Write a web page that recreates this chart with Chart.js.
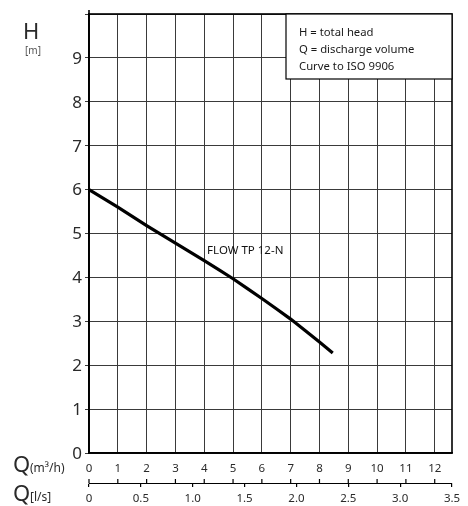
<!DOCTYPE html>
<html><head><meta charset="utf-8">
<script src="https://cdn.jsdelivr.net/npm/chart.js@4.4.0/dist/chart.umd.min.js"></script>
<style>html,body{margin:0;padding:0;background:#fff}canvas{display:block}</style>
</head><body>
<canvas id="c" width="468" height="506" style="width:468px;height:506px"></canvas>
<script>
const flowM3h = [0, 1, 2, 3, 4, 5, 6, 7, 8, 8.46];
const headM = [6.0, 5.6, 5.18, 4.78, 4.38, 3.97, 3.52, 3.05, 2.53, 2.28];
const xTicksM3h = [0,1,2,3,4,5,6,7,8,9,10,11,12];
const xTicksLs = [0,0.5,1.0,1.5,2.0,2.5,3.0,3.5];
const xTickLabelsLs = ['0','0.5','1.0','1.5','2.0','2.5','3.0','3.5'];
const yTicks = [0,1,2,3,4,5,6,7,8,9,10];
const legendLines = ['H = total head','Q = discharge volume','Curve to ISO 9906'];
const seriesName = 'FLOW TP 12-N';
const seriesLabelAt = {x: 4.1, y: 4.6};

const FONT = "'Noto Sans', 'Open Sans', sans-serif";
const TXT = '#2a2a2a';

const extras = {
  id: 'extras',
  afterDraw(chart) {
    const ctx = chart.ctx, a = chart.chartArea;
    const xs = chart.scales.x, x2 = chart.scales.x2;
    ctx.save();
    // frame
    ctx.strokeStyle = '#000'; ctx.lineWidth = 1.6;
    ctx.strokeRect(a.left, a.top, a.right - a.left, a.bottom - a.top);
    ctx.beginPath(); ctx.moveTo(a.left, a.top); ctx.lineTo(a.left, a.top - 4); ctx.stroke();
    // upward ticks of m3/h on the l/s line
    ctx.lineWidth = 1.2;
    ctx.beginPath();
    xTicksM3h.forEach(v => {
      const px = xs.getPixelForValue(v);
      ctx.moveTo(px, x2.top + 0.5); ctx.lineTo(px, x2.top - 4);
    });
    ctx.stroke();
    // legend box
    const bw = 166, bh = 65;
    const bx = a.right - bw, by = a.top;
    ctx.fillStyle = '#fff';
    ctx.fillRect(bx, by, bw, bh);
    ctx.strokeStyle = '#000'; ctx.lineWidth = 1.2;
    ctx.strokeRect(bx, by, bw, bh);
    ctx.fillStyle = '#1a1a1a';
    ctx.font = '11.3px ' + FONT;
    ctx.textBaseline = 'middle'; ctx.textAlign = 'left';
    legendLines.forEach((t, i) => ctx.fillText(t, bx + 13, by + 19 + i * 17));
    // series label
    ctx.font = '11.5px ' + FONT;
    ctx.fillStyle = '#111';
    ctx.fillText(seriesName, xs.getPixelForValue(seriesLabelAt.x), chart.scales.y.getPixelForValue(seriesLabelAt.y));
    // axis titles
    ctx.fillStyle = TXT;
    ctx.font = '22px ' + FONT;
    ctx.fillText('H', 23, 33);
    ctx.font = '10px ' + FONT;
    ctx.fillStyle = '#555';
    ctx.fillText('[m]', 25, 51);
    ctx.fillStyle = TXT;
    ctx.font = '22px ' + FONT;
    ctx.fillText('Q', 13, 466);
    ctx.fillText('Q', 13, 495);
    ctx.font = '12px ' + FONT;
    ctx.fillText('(m³/h)', 30, 469);
    ctx.fillText('[l/s]', 30, 498);
    ctx.restore();
  }
};

new Chart(document.getElementById('c'), {
  type: 'line',
  data: {
    datasets: [{
      data: flowM3h.map((q, i) => ({x: q, y: headM[i]})),
      borderColor: '#000', borderWidth: 3.2, pointRadius: 0, tension: 0.1, fill: false,
      borderCapStyle: 'butt'
    }]
  },
  options: {
    responsive: false, animation: false,
    layout: {padding: {top: 14, right: 16, left: 0, bottom: 0}},
    plugins: {legend: {display: false}, tooltip: {enabled: false}},
    scales: {
      x: {
        type: 'linear', position: 'bottom', min: 0, max: 12.6,
        afterBuildTicks: s => { s.ticks = xTicksM3h.map(v => ({value: v})); },
        afterFit: s => { s.height = 30; },
        grid: {color: '#3a3a3a', lineWidth: 1, drawTicks: false},
        border: {color: '#000', width: 1.6},
        ticks: {padding: 9, maxRotation: 0, autoSkip: false, color: TXT, font: {size: 11.5, family: FONT},
                callback: v => String(v)}
      },
      x2: {
        type: 'linear', position: 'bottom', min: 0, max: 3.5,
        afterBuildTicks: s => { s.ticks = xTicksLs.map(v => ({value: v})); },
        afterFit: s => { s.height = 23; },
        grid: {drawOnChartArea: false, drawTicks: true, tickLength: 4, color: '#000', lineWidth: 1.2},
        border: {color: '#000', width: 1},
        ticks: {padding: 5, maxRotation: 0, autoSkip: false, color: TXT, font: {size: 11.5, family: FONT},
                callback: (v, i) => xTickLabelsLs[i]}
      },
      y: {
        type: 'linear', min: 0, max: 10,
        afterBuildTicks: s => { s.ticks = yTicks.map(v => ({value: v})); },
        afterFit: s => { s.width = 89; },
        grid: {color: '#3a3a3a', lineWidth: 1, tickLength: 4, drawTicks: true},
        border: {color: '#000', width: 1.6},
        ticks: {padding: 3, color: TXT, font: {size: 17, family: FONT}, labelOffset: 1,
                callback: v => v === 10 ? '' : String(v)}
      }
    }
  },
  plugins: [extras]
});
</script>
</body></html>
